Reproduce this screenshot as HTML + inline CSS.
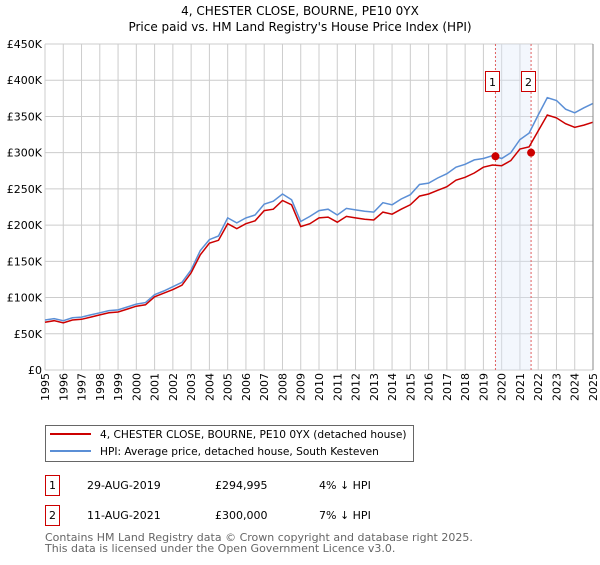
<!DOCTYPE html>
<html><head><meta charset="utf-8"><style>
body{margin:0;background:#fff;font-family:"Liberation Sans","DejaVu Sans",sans-serif;}
svg text{font-family:"DejaVu Sans","Liberation Sans",sans-serif;}
</style></head><body>
<svg id="chart" width="600" height="560" xmlns="http://www.w3.org/2000/svg">
<text x="300" y="15" text-anchor="middle" font-size="12">4, CHESTER CLOSE, BOURNE, PE10 0YX</text>
<text x="300" y="31" text-anchor="middle" font-size="12">Price paid vs. HM Land Registry's House Price Index (HPI)</text>
<g id="grid"></g><g id="band"></g><g id="series"></g><g id="axes"></g>
<g>
<rect x="45.5" y="425.5" width="368" height="36" fill="#fff" stroke="#666"/>
<line x1="50" y1="434" x2="91" y2="434" stroke="#cc0000" stroke-width="2"/>
<text x="100" y="438" font-size="10.6">4, CHESTER CLOSE, BOURNE, PE10 0YX (detached house)</text>
<line x1="50" y1="451" x2="91" y2="451" stroke="#5b8fd6" stroke-width="2"/>
<text x="100" y="455" font-size="10.6">HPI: Average price, detached house, South Kesteven</text>
</g>
<g font-size="11">
<rect x="45.5" y="475.5" width="14" height="20" fill="#fff" stroke="#cc0000"/>
<text x="52.5" y="489" text-anchor="middle">1</text>
<text x="87" y="489">29-AUG-2019</text><text x="215" y="489">£294,995</text><text x="319" y="489">4% ↓ HPI</text>
</g>
<g font-size="11">
<rect x="45.5" y="505.5" width="14" height="20" fill="#fff" stroke="#cc0000"/>
<text x="52.5" y="519" text-anchor="middle">2</text>
<text x="87" y="519">11-AUG-2021</text><text x="215" y="519">£300,000</text><text x="319" y="519">7% ↓ HPI</text>
</g>
<text x="45" y="541" font-size="11" fill="#666">Contains HM Land Registry data © Crown copyright and database right 2025.</text>
<text x="45" y="552" font-size="11" fill="#666">This data is licensed under the Open Government Licence v3.0.</text>
</svg>
<script>
const years=[1995,1995.5,1996,1996.5,1997,1997.5,1998,1998.5,1999,1999.5,2000,2000.5,2001,2001.5,2002,2002.5,2003,2003.5,2004,2004.5,2005,2005.5,2006,2006.5,2007,2007.5,2008,2008.5,2009,2009.5,2010,2010.5,2011,2011.5,2012,2012.5,2013,2013.5,2014,2014.5,2015,2015.5,2016,2016.5,2017,2017.5,2018,2018.5,2019,2019.5,2020,2020.5,2021,2021.5,2022,2022.5,2023,2023.5,2024,2024.5,2025];
const hpi=[69,71,68,72,73,76,79,82,83,87,91,93,104,109,115,121,138,165,180,185,210,203,210,214,229,233,243,235,205,212,220,222,214,223,221,219,218,231,228,236,242,256,258,265,271,280,284,290,292,296,292,300,318,327,352,376,372,360,355,362,368];
const price=[66,68,65,69,70,73,76,79,80,84,88,90,101,106,111,117,134,159,175,179,202,195,202,206,220,222,234,228,198,202,210,211,204,212,210,208,207,218,215,222,228,240,243,248,253,262,266,272,280,283,282,289,305,308,330,352,348,340,335,338,342];
const saleYears=[2019.66,2021.61];
const salePrices=[294995,300000];
const yTicks=[0,50,100,150,200,250,300,350,400,450];
const xTicks=[1995,1996,1997,1998,1999,2000,2001,2002,2003,2004,2005,2006,2007,2008,2009,2010,2011,2012,2013,2014,2015,2016,2017,2018,2019,2020,2021,2022,2023,2024,2025];
const L=45,R=593,T=44,B=370;
const X=y=>L+(y-1995)/30*(R-L);
const Y=v=>B-v/450*(B-T);
const NS="http://www.w3.org/2000/svg";
function mk(tag,attrs,parent){const e=document.createElementNS(NS,tag);for(const k in attrs)e.setAttribute(k,attrs[k]);parent.appendChild(e);return e;}
const grid=document.getElementById('grid'),axes=document.getElementById('axes'),band=document.getElementById('band'),ser=document.getElementById('series');
yTicks.forEach(v=>{const l=mk('line',{x1:L,x2:R,y1:Y(v),y2:Y(v),stroke:'#ccc'},grid);


const t=mk('text',{x:L-3,y:Y(v)+4,'text-anchor':'end','font-size':11},axes);t.textContent=v===0?'£0':'£'+v+'K';

});
xTicks.forEach(v=>{const l=mk('line',{x1:X(v),x2:X(v),y1:T,y2:B,stroke:'#ccc'},grid);


const t=mk('text',{x:0,y:0,'font-size':11,'text-anchor':'end',transform:`translate(${X(v)+4},${B+3}) rotate(-90)`},axes);t.textContent=v;

});
mk('line',{x1:R,x2:R,y1:T,y2:B,stroke:'#888'},axes);
const sh=mk('rect',{x:X(saleYears[0]),y:T,width:X(saleYears[1])-X(saleYears[0]),height:B-T,fill:'#dde8f8','fill-opacity':0.35},band);


saleYears.forEach((s,i)=>{const l=mk('line',{x1:X(s),x2:X(s),y1:T,y2:B,stroke:'#e06060','stroke-dasharray':'2,2'},band);


const r=mk('rect',{x:Math.round(X(s))-9.5,y:71.5,width:14,height:20,fill:'#fff',stroke:'#cc0000'},band);


const t=mk('text',{x:Math.round(X(s))-2.5,y:86,'text-anchor':'middle','font-size':11},band);t.textContent=String(i+1);

});
const pts=a=>a.map((v,i)=>X(years[i]).toFixed(1)+','+Y(v).toFixed(1)).join(' ');
const hl=mk('polyline',{points:pts(hpi),fill:'none',stroke:'#5b8fd6','stroke-width':1.5},ser);


const pl=mk('polyline',{points:pts(price),fill:'none',stroke:'#cc0000','stroke-width':1.5},ser);


saleYears.forEach((s,i)=>{const c=mk('circle',{cx:X(s),cy:Y(salePrices[i]/1000),r:4,fill:'#cc0000'},ser);

});
</script>
</body></html>
